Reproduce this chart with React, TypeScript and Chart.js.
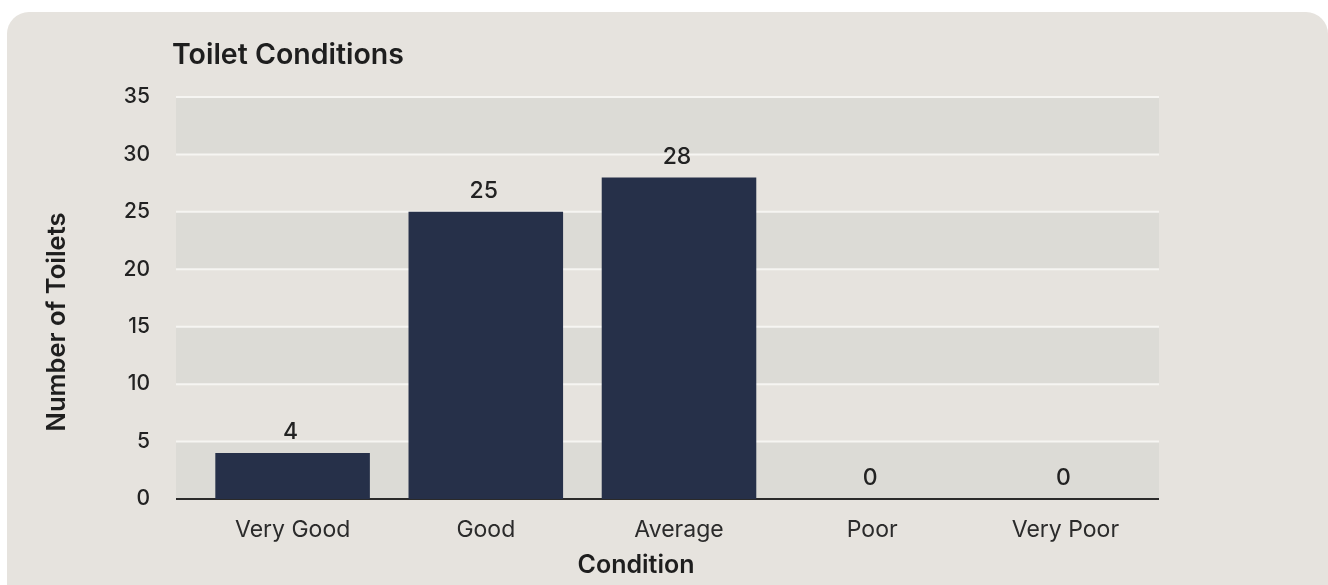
import React, { useEffect, useRef } from "react";
import { Chart, registerables } from "chart.js";

Chart.register(...registerables);

const categories = ["Very Good", "Good", "Average", "Poor", "Very Poor"];
const toiletCounts = [4, 25, 28, 0, 0];
const yTicks = [0, 5, 10, 15, 20, 25, 30, 35];

const chartTitle = "Toilet Conditions";
const xAxisTitle = "Condition";
const yAxisTitle = "Number of Toilets";

const FONT = "Inter, 'Noto Sans', sans-serif";
// grid extends a bit left of the first category and stops just before the last one's edge
const GRID_LEFT_EXTRA = 20;
const GRID_RIGHT_INSET = 3;

const bandsPlugin = {
  id: "bands",
  beforeDraw(chart: any) {
    const { ctx, chartArea, scales } = chart;
    const y = scales.y;
    const left = chartArea.left - GRID_LEFT_EXTRA;
    const right = chartArea.right - GRID_RIGHT_INSET;
    ctx.save();
    ctx.fillStyle = "#dcdbd6";
    for (let i = 0; i < yTicks.length - 1; i += 2) {
      const top = y.getPixelForValue(yTicks[i + 1]);
      const bottom = y.getPixelForValue(yTicks[i]);
      ctx.fillRect(left, top, right - left, bottom - top);
    }
    ctx.strokeStyle = "#f6f5f2";
    ctx.lineWidth = 2;
    yTicks.forEach((v) => {
      if (v === 0) return;
      const py = y.getPixelForValue(v);
      ctx.beginPath();
      ctx.moveTo(left, py);
      ctx.lineTo(right, py);
      ctx.stroke();
    });
    const py0 = y.getPixelForValue(0);
    ctx.strokeStyle = "#2a2a2a";
    ctx.beginPath();
    ctx.moveTo(left, py0);
    ctx.lineTo(right, py0);
    ctx.stroke();
    ctx.restore();
  },
};

const labelsPlugin = {
  id: "valueLabels",
  afterDatasetsDraw(chart: any) {
    const { ctx } = chart;
    const meta = chart.getDatasetMeta(0);
    ctx.save();
    ctx.font = `500 23px ${FONT}`;
    ctx.fillStyle = "#222222";
    ctx.textAlign = "center";
    ctx.textBaseline = "bottom";
    meta.data.forEach((bar: any, i: number) => {
      ctx.fillText(String(toiletCounts[i]), bar.x - 2, bar.y - 9);
    });
    ctx.restore();
  },
};

const titlesPlugin = {
  id: "customTitles",
  afterDraw(chart: any) {
    const { ctx, chartArea } = chart;
    ctx.save();
    ctx.fillStyle = "#1e1e1e";
    ctx.textBaseline = "middle";
    // chart title
    ctx.font = `600 28.5px ${FONT}`;
    ctx.textAlign = "left";
    ctx.fillText(chartTitle, chartArea.left - 24, 55);
    // x axis title
    ctx.font = `600 25px ${FONT}`;
    ctx.textAlign = "center";
    ctx.fillText(xAxisTitle, 636, 565);
    // y axis title
    ctx.translate(57, 322);
    ctx.rotate(-Math.PI / 2);
    ctx.font = `600 25.5px ${FONT}`;
    ctx.fillText(yAxisTitle, 0, 0);
    ctx.restore();
  },
};

export default function App() {
  const canvasRef = useRef<HTMLCanvasElement | null>(null);

  useEffect(() => {
    if (!canvasRef.current) return;
    const chart = new Chart(canvasRef.current, {
      type: "bar",
      data: {
        labels: categories,
        datasets: [
          {
            label: yAxisTitle,
            data: toiletCounts,
            backgroundColor: "#263049",
            barPercentage: 0.8,
            categoryPercentage: 1,
          },
        ],
      },
      options: {
        animation: false,
        responsive: false,
        maintainAspectRatio: false,
        layout: { padding: { top: 97, right: 166, bottom: 0, left: 0 } },
        plugins: {
          legend: { display: false },
          tooltip: { enabled: false },
          title: { display: false },
        },
        scales: {
          x: {
            afterFit: (scale: any) => {
              scale.height = 86;
            },
            grid: { display: false, drawTicks: false },
            border: { display: false },
            ticks: {
              padding: 17,
              color: "#2b2b2b",
              font: { family: FONT, size: 23, weight: "normal" },
            },
            title: { display: false },
          },
          y: {
            min: 0,
            max: 35,
            afterFit: (scale: any) => {
              scale.width = 196;
            },
            afterBuildTicks: (scale: any) => {
              scale.ticks = yTicks.map((v) => ({ value: v }));
            },
            grid: { display: false, drawTicks: false },
            border: { display: false },
            ticks: {
              padding: 46,
              color: "#222222",
              font: { family: FONT, size: 21, weight: "500" },
            },
            title: { display: false },
          },
        },
      },
      plugins: [bandsPlugin, labelsPlugin, titlesPlugin],
    });
    return () => chart.destroy();
  }, []);

  return (
    <div
      style={{
        position: "fixed",
        left: 0,
        top: 0,
        width: 1328,
        height: 585,
        background: "#ffffff",
        overflow: "hidden",
      }}
    >
      <div
        style={{
          position: "absolute",
          left: 7,
          top: 12,
          width: 1321,
          height: 620,
          background: "#e6e3de",
          borderRadius: 22,
        }}
      />
      <canvas
        ref={canvasRef}
        width={1328}
        height={585}
        style={{ position: "absolute", left: 0, top: 0, width: 1328, height: 585 }}
      />
    </div>
  );
}
